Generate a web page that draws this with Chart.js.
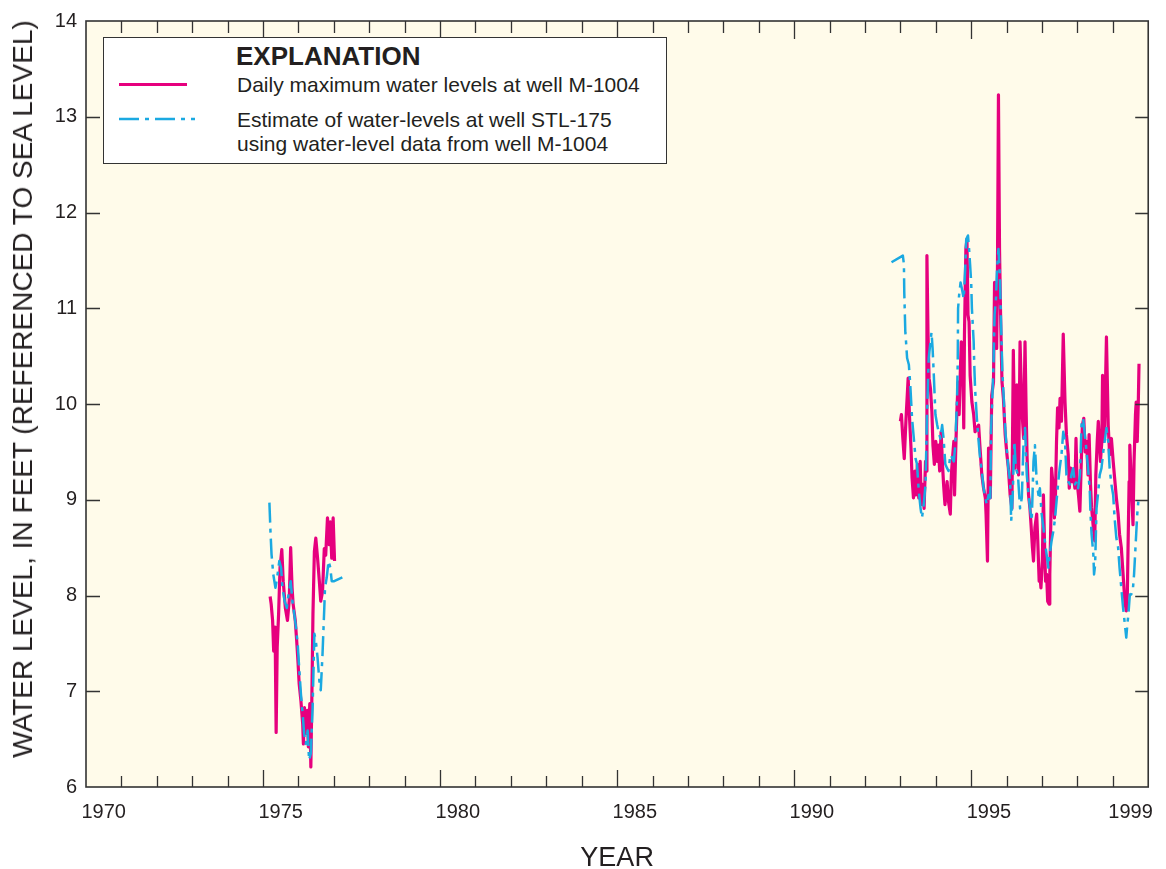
<!DOCTYPE html>
<html>
<head>
<meta charset="utf-8">
<title>Water levels, wells M-1004 and STL-175</title>
<script src="https://cdn.jsdelivr.net/npm/chart.js@4.4.1/dist/chart.umd.min.js"></script>
<style>
  body { margin: 0; background: #fff; }
  #wrap { position: relative; width: 1166px; height: 869px; font-family: "Liberation Sans", Arial, sans-serif; color: #231f20; }
  #chart { position: absolute; left: 0; top: 0; }
  .abs { position: absolute; white-space: nowrap; line-height: 1; }
  #legendBox { left: 103px; top: 37px; width: 564px; height: 127px; box-sizing: border-box; border: 1.5px solid #333; background: #fff; }
  #legendTitle { left: 236px; top: 43px; font-size: 26px; font-weight: bold; }
  .legendText { font-size: 21px; left: 237px; }
  #pinkSample { left: 119px; top: 83px; width: 68px; height: 3px; background: #e6007e; }
  #blueSample { left: 119px; top: 116px; }
  #yTitle { left: 23px; top: 389px; font-size: 28px; transform: translate(-50%, -50%) rotate(-90deg); }
</style>
</head>
<body>
<div id="wrap">
  <canvas id="chart" width="1166" height="869"></canvas>
  <div class="abs" id="yTitle">WATER LEVEL, IN FEET (REFERENCED TO SEA LEVEL)</div>
  <div class="abs" id="legendBox"></div>
  <div class="abs" id="legendTitle">EXPLANATION</div>
  <div class="abs" id="pinkSample"></div>
  <div class="abs legendText" style="top:74px">Daily maximum water levels at well M-1004</div>
  <svg class="abs" id="blueSample" width="76" height="6"><line x1="0" y1="3" x2="76" y2="3" stroke="#1ba9e1" stroke-width="2.5" stroke-dasharray="20 6 4 6"/></svg>
  <div class="abs legendText" style="top:109px">Estimate of water-levels at well STL-175</div>
  <div class="abs legendText" style="top:133px">using water-level data from well M-1004</div>
</div>
<script>
const xLabelYears = [1970, 1975, 1980, 1985, 1990, 1995, 1999];

// daily maximum water levels, well M-1004 (feet)
const m1004Years1975 = [1975.20, 1975.23, 1975.27, 1975.30, 1975.34, 1975.37, 1975.40, 1975.44, 1975.48, 1975.53,
  1975.57, 1975.63, 1975.69, 1975.74, 1975.78, 1975.82, 1975.85, 1975.91, 1975.95, 1975.99,
  1976.02, 1976.07, 1976.12, 1976.14, 1976.17, 1976.21, 1976.25, 1976.28, 1976.32, 1976.35,
  1976.38, 1976.41, 1976.45, 1976.49, 1976.54, 1976.59, 1976.63, 1976.68, 1976.73, 1976.77,
  1976.82, 1976.87, 1976.90, 1976.94, 1976.98, 1977.02];
const m1004Levels1975 = [7.99, 7.91, 7.74, 7.42, 7.67, 6.57, 7.46, 7.81, 8.29, 8.48,
  8.15, 7.87, 7.74, 7.95, 8.50, 8.08, 7.91, 7.74, 7.53, 7.29,
  7.08, 6.90, 6.66, 6.45, 6.83, 6.56, 6.80, 6.42, 6.87, 6.21,
  6.97, 7.81, 8.46, 8.60, 8.39, 8.15, 7.94, 8.04, 8.49, 8.42,
  8.81, 8.53, 8.77, 8.39, 8.81, 8.36];

const m1004Years1993 = [1993.00, 1993.03, 1993.07, 1993.11, 1993.16, 1993.22, 1993.26, 1993.30, 1993.33, 1993.37,
  1993.41, 1993.44, 1993.48, 1993.52, 1993.56, 1993.59, 1993.63, 1993.67, 1993.71, 1993.74,
  1993.75, 1993.78, 1993.81, 1993.85, 1993.89, 1993.92, 1993.96, 1994.00, 1994.04, 1994.07,
  1994.11, 1994.15, 1994.19, 1994.22, 1994.26, 1994.32, 1994.36, 1994.41, 1994.44, 1994.48,
  1994.51, 1994.53, 1994.57, 1994.60, 1994.63, 1994.66, 1994.69, 1994.72, 1994.76, 1994.79,
  1994.81, 1994.85, 1994.88, 1994.91, 1994.94, 1994.97, 1995.02, 1995.07, 1995.11, 1995.16,
  1995.21, 1995.25, 1995.30, 1995.35, 1995.40, 1995.42, 1995.46, 1995.49, 1995.54, 1995.58,
  1995.63, 1995.66, 1995.69, 1995.72, 1995.74, 1995.77, 1995.80, 1995.83, 1995.87, 1995.91,
  1995.96, 1996.01, 1996.05, 1996.10, 1996.15, 1996.19, 1996.24, 1996.29, 1996.34, 1996.38,
  1996.43, 1996.48, 1996.52, 1996.55, 1996.58, 1996.62, 1996.66, 1996.69, 1996.73, 1996.76,
  1996.80, 1996.85, 1996.88, 1996.92, 1996.94, 1996.97, 1997.01, 1997.04, 1997.07, 1997.10,
  1997.13, 1997.16, 1997.20, 1997.22, 1997.25, 1997.27, 1997.32, 1997.35, 1997.38, 1997.41,
  1997.44, 1997.48, 1997.51, 1997.55, 1997.60, 1997.65, 1997.69, 1997.74, 1997.77, 1997.81,
  1997.84, 1997.88, 1997.93, 1997.96, 1997.99, 1998.03, 1998.07, 1998.11, 1998.14, 1998.18,
  1998.22, 1998.26, 1998.30, 1998.33, 1998.37, 1998.40, 1998.45, 1998.49, 1998.52, 1998.56,
  1998.59, 1998.62, 1998.65, 1998.69, 1998.71, 1998.74, 1998.77, 1998.82, 1998.87, 1998.91,
  1998.96, 1999.01, 1999.05, 1999.10, 1999.15, 1999.19, 1999.24, 1999.29, 1999.34, 1999.38,
  1999.41, 1999.43, 1999.46, 1999.48, 1999.52, 1999.57, 1999.60, 1999.64, 1999.66, 1999.69,
  1999.72, 1999.74];
const m1004Levels1993 = [9.82, 9.89, 9.64, 9.43, 9.85, 10.27, 9.85, 9.54, 9.23, 9.02,
  9.30, 9.05, 9.37, 9.02, 9.40, 8.95, 9.16, 8.91, 9.40, 9.30,
  11.55, 10.75, 10.27, 10.16, 9.92, 9.57, 9.37, 9.61, 9.40, 9.57,
  9.30, 9.71, 9.37, 9.16, 8.95, 9.19, 8.98, 8.85, 9.26, 9.47,
  9.61, 9.05, 9.61, 9.96, 10.23, 9.89, 10.30, 10.65, 10.51, 9.75,
  10.72, 11.62, 11.72, 10.93, 10.86, 10.30, 10.02, 9.89, 9.71, 9.75,
  9.78, 9.54, 9.26, 9.12, 9.02, 8.85, 8.36, 9.54, 9.02, 10.09,
  10.23, 11.27, 10.93, 10.58, 11.27, 13.23, 11.62, 10.93, 10.23, 10.06,
  9.68, 9.47, 9.33, 9.05, 8.91, 10.56, 9.33, 10.20, 9.26, 10.65,
  9.96, 9.64, 10.65, 9.96, 9.43, 9.05, 8.91, 8.74, 8.50, 8.36,
  8.71, 8.85, 8.57, 8.15, 8.22, 8.08, 8.36, 9.05, 8.57, 8.15,
  8.22, 7.94, 7.91, 8.22, 8.78, 9.33, 9.12, 8.81, 9.05, 9.61,
  9.96, 9.75, 10.06, 9.82, 10.73, 10.02, 9.68, 9.47, 9.12, 9.33,
  9.19, 9.26, 9.12, 9.64, 9.19, 9.05, 8.88, 9.40, 9.78, 9.85,
  9.50, 9.61, 9.26, 9.68, 9.16, 8.92, 8.71, 8.57, 9.26, 9.61,
  9.82, 9.61, 9.40, 9.61, 10.30, 9.61, 9.78, 10.70, 9.78, 9.47,
  9.64, 9.40, 9.23, 9.02, 8.85, 8.64, 8.50, 8.22, 7.94, 7.84,
  8.01, 8.50, 9.19, 9.57, 9.19, 8.74, 9.40, 9.89, 10.02, 9.61,
  10.02, 10.42];

// estimated water levels, well STL-175 (feet)
const stl175Years1975 = [1975.18, 1975.21, 1975.24, 1975.29, 1975.35, 1975.40, 1975.46, 1975.51, 1975.55, 1975.61,
  1975.67, 1975.72, 1975.78, 1975.83, 1975.88, 1975.93, 1975.98, 1976.02, 1976.07, 1976.12,
  1976.16, 1976.21, 1976.26, 1976.30, 1976.35, 1976.40, 1976.45, 1976.49, 1976.54, 1976.59,
  1976.63, 1976.68, 1976.73, 1976.75, 1976.80, 1976.85, 1976.90, 1976.94, 1977.01, 1977.24];
const stl175Levels1975 = [8.97, 8.67, 8.43, 8.22, 8.08, 8.19, 8.36, 8.29, 8.08, 7.94,
  7.87, 8.01, 8.15, 7.94, 7.81, 7.67, 7.49, 7.25, 6.97, 6.76,
  6.56, 6.45, 6.59, 6.28, 6.35, 6.83, 7.60, 7.53, 7.35, 7.11,
  7.01, 7.39, 7.87, 8.08, 8.19, 8.36, 8.29, 8.15, 8.15, 8.19];

const stl175Years1993 = [1992.75, 1993.07, 1993.10, 1993.11, 1993.13, 1993.14, 1993.16, 1993.19, 1993.24, 1993.28,
  1993.33, 1993.38, 1993.43, 1993.47, 1993.52, 1993.57, 1993.61, 1993.66, 1993.71, 1993.75,
  1993.80, 1993.88, 1993.91, 1993.94, 1993.99, 1994.04, 1994.08, 1994.13, 1994.18, 1994.22,
  1994.27, 1994.32, 1994.36, 1994.41, 1994.46, 1994.51, 1994.55, 1994.60, 1994.62, 1994.63,
  1994.66, 1994.70, 1994.74, 1994.79, 1994.83, 1994.86, 1994.91, 1994.94, 1994.97, 1995.00,
  1995.02, 1995.07, 1995.09, 1995.11, 1995.16, 1995.21, 1995.25, 1995.30, 1995.35, 1995.40,
  1995.44, 1995.49, 1995.54, 1995.56, 1995.60, 1995.63, 1995.66, 1995.70, 1995.73, 1995.77,
  1995.81, 1995.85, 1995.88, 1995.92, 1995.96, 1996.01, 1996.05, 1996.10, 1996.13, 1996.17,
  1996.22, 1996.26, 1996.32, 1996.38, 1996.43, 1996.48, 1996.52, 1996.57, 1996.62, 1996.66,
  1996.71, 1996.76, 1996.80, 1996.85, 1996.90, 1996.94, 1996.99, 1997.04, 1997.08, 1997.13,
  1997.18, 1997.22, 1997.27, 1997.32, 1997.36, 1997.41, 1997.46, 1997.50, 1997.55, 1997.60,
  1997.65, 1997.69, 1997.74, 1997.79, 1997.83, 1997.88, 1997.93, 1997.98, 1998.02, 1998.07,
  1998.12, 1998.16, 1998.21, 1998.26, 1998.30, 1998.35, 1998.37, 1998.40, 1998.45, 1998.47,
  1998.50, 1998.54, 1998.59, 1998.63, 1998.68, 1998.73, 1998.77, 1998.82, 1998.87, 1998.91,
  1998.96, 1999.01, 1999.05, 1999.10, 1999.15, 1999.19, 1999.24, 1999.29, 1999.34, 1999.38,
  1999.41, 1999.44, 1999.48, 1999.52, 1999.57, 1999.60, 1999.63, 1999.66, 1999.69, 1999.72];
const stl175Levels1993 = [11.48, 11.55, 11.46, 11.17, 10.89, 10.75, 10.65, 10.48, 10.41, 10.20,
  9.85, 9.64, 9.43, 9.37, 9.09, 8.91, 8.81, 8.95, 9.16, 9.85,
  10.48, 10.75, 10.58, 10.34, 9.89, 9.78, 9.71, 9.64, 9.78, 9.64,
  9.37, 9.33, 9.30, 9.47, 9.44, 9.40, 9.57, 10.06, 10.44, 11.00,
  11.14, 11.27, 11.20, 11.10, 11.41, 11.72, 11.76, 11.62, 11.45, 11.27,
  11.00, 10.65, 10.37, 10.16, 9.85, 9.61, 9.44, 9.30, 9.12, 9.02,
  8.95, 9.05, 9.02, 9.71, 10.09, 10.41, 10.93, 11.10, 11.41, 11.62,
  11.34, 10.75, 10.34, 10.06, 9.75, 9.50, 9.33, 9.19, 8.78, 9.02,
  9.61, 9.33, 9.26, 8.91, 9.02, 9.61, 9.75, 9.26, 9.05, 8.91,
  8.78, 9.40, 9.57, 9.19, 9.05, 9.12, 8.85, 8.71, 8.57, 8.43,
  8.29, 8.43, 8.57, 8.67, 8.78, 8.98, 9.19, 9.33, 9.47, 9.71,
  9.61, 9.26, 9.19, 9.16, 9.26, 9.33, 9.16, 9.19, 9.12, 9.26,
  9.82, 9.85, 9.68, 9.50, 9.33, 9.09, 8.85, 8.64, 8.43, 8.22,
  8.32, 8.91, 9.09, 9.26, 9.33, 9.50, 9.61, 9.75, 9.61, 9.33,
  9.16, 9.05, 8.81, 8.60, 8.50, 8.29, 8.08, 7.87, 7.70, 7.56,
  7.70, 7.80, 8.01, 8.01, 8.08, 8.22, 8.43, 8.64, 8.85, 8.98];

function toPoints(years, levels) {
  return years.map((yr, i) => ({ x: yr, y: levels[i] }));
}

// null point in between so the two record periods are not joined
const gap = [{ x: 1985, y: null }];
const m1004Points = toPoints(m1004Years1975, m1004Levels1975).concat(gap, toPoints(m1004Years1993, m1004Levels1993));
const stl175Points = toPoints(stl175Years1975, stl175Levels1975).concat(gap, toPoints(stl175Years1993, stl175Levels1993));

const axisColor = '#333333';

// cream plot area, frame and the inward tick marks
const framePlugin = {
  id: 'frame',
  beforeDraw(chart) {
    const a = chart.chartArea;
    const ctx = chart.ctx;
    ctx.save();
    ctx.fillStyle = '#fffbea';
    ctx.fillRect(a.left, a.top, a.right - a.left, a.bottom - a.top);
    ctx.restore();
  },
  afterDraw(chart) {
    const a = chart.chartArea;
    const ctx = chart.ctx;
    const xs = chart.scales.x;
    const ys = chart.scales.y;
    ctx.save();
    ctx.strokeStyle = axisColor;
    ctx.lineWidth = 1.3;
    ctx.beginPath();
    for (let yr = 1971; yr < 2000; yr++) {
      const px = Math.round(xs.getPixelForValue(yr)) + 0.5;
      const len = yr % 5 === 0 ? 17 : 11;
      ctx.moveTo(px, a.bottom);
      ctx.lineTo(px, a.bottom - len);
      ctx.moveTo(px, a.top);
      ctx.lineTo(px, a.top + len + 1);
    }
    for (let v = 7; v < 14; v++) {
      const py = Math.round(ys.getPixelForValue(v)) + 0.5;
      ctx.moveTo(a.left, py);
      ctx.lineTo(a.left + 14, py);
      ctx.moveTo(a.right, py);
      ctx.lineTo(a.right - 13, py);
    }
    ctx.stroke();
    ctx.lineWidth = 1.6;
    ctx.strokeRect(a.left, a.top, a.right - a.left, a.bottom - a.top);
    ctx.restore();
  }
};

Chart.defaults.font.family = '"Liberation Sans", Arial, sans-serif';
Chart.defaults.color = '#231f20';

new Chart(document.getElementById('chart').getContext('2d'), {
  type: 'line',
  data: {
    datasets: [{
      label: 'Estimate of water-levels at well STL-175',
      data: stl175Points,
      borderColor: '#1ba9e1',
      borderWidth: 2.5,
      borderDash: [20, 6, 4, 6],
      order: 0
    }, {
      label: 'Daily maximum water levels at well M-1004',
      data: m1004Points,
      borderColor: '#e6007e',
      borderWidth: 3.2,
      order: 1
    }]
  },
  options: {
    responsive: false,
    animation: false,
    spanGaps: false,
    layout: { padding: { top: 18, right: 14, bottom: 0, left: 0 } },
    elements: { point: { radius: 0 }, line: { tension: 0, borderJoinStyle: 'round' } },
    plugins: { legend: { display: false }, tooltip: { enabled: false } },
    scales: {
      x: {
        type: 'linear',
        min: 1970,
        max: 2000,
        grid: { display: false, drawTicks: false },
        border: { display: false },
        // year labels sit in the middle of each year's interval
        afterBuildTicks: (scale) => { scale.ticks = xLabelYears.map(yr => ({ value: yr + 0.5 })); },
        afterFit: (scale) => { scale.height = 82; },
        ticks: {
          autoSkip: false,
          maxRotation: 0,
          padding: 13,
          font: { size: 20 },
          callback: (value) => String(Math.floor(value))
        },
        title: { display: true, text: 'YEAR', font: { size: 27, lineHeight: 0.8 }, padding: { top: 0, bottom: 0 } }
      },
      y: {
        min: 6,
        max: 14,
        grid: { display: false, drawTicks: false },
        border: { display: false },
        afterFit: (scale) => { scale.width = 86; },
        ticks: { stepSize: 1, padding: 9, font: { size: 20 } }
      }
    }
  },
  plugins: [framePlugin]
});
</script>
</body>
</html>
